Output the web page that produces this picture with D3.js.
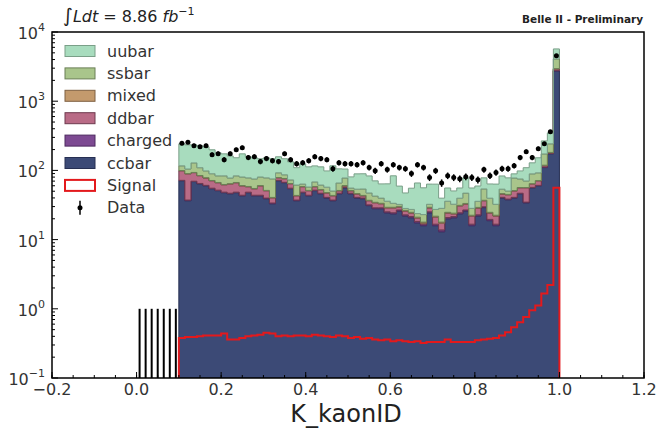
<!DOCTYPE html>
<html><head><meta charset="utf-8">
<script src="https://cdn.jsdelivr.net/npm/d3@7"></script>
<style>body{margin:0;background:#fff}svg{display:block}text{font-family:"DejaVu Sans",sans-serif}</style>
</head><body><svg id="c" width="662" height="428"></svg>
<script>
// Histogram binning: 70 bins on [0,1]; MC/signal non-zero from bin 7 (x=0.1) to bin 69
const nBins = 70, firstBin = 7;
// Data in bins 0..6 (x 0.0-0.1)
const dataLow = [0,0,0,0,0,0,0];
// Values for bins 7..69
const ccbar = [71,36.5,69,64,60,54.5,51,47.7,46,47.7,43,47.7,43,43,39,33,71,66.5,54.5,36.5,47.7,43,51,46,40,36.5,46,56,46,40,39,31,28,28,24.4,23.6,26,22,20.7,17.5,15.9,24.4,15.9,13,20,20.7,23.6,26,15.9,22,29,18.8,15.9,40,37.7,40,46,34,56,60,110,174,2746];
const charged = [0.8,0.8,0.8,0.8,0.8,0.8,0.8,0.8,0.8,0.8,0.8,0.8,0.8,0.8,0.8,0.8,0.8,0.8,0.8,0.8,0.8,0.8,0.8,0.8,0.8,0.8,0.8,0.8,0.8,0.8,0.8,0.8,0.8,0.8,0.8,0.8,0.8,0.8,0.8,0.8,0.8,0.8,0.8,0.8,0.8,0.8,0.8,0.8,0.8,0.8,0.8,0.8,0.8,0.8,0.8,0.8,0.8,0.8,0.8,0.8,2,2,20];
const ddbar = [27,52,23,19,17,15.6,14.5,13.5,17,17.8,16,9.5,10.4,16,11,6.3,6.5,8.5,8.8,5.6,9.5,7,6.2,5.6,6.4,5.6,3.9,2.9,3.9,4.8,3.1,4.6,5.2,4.1,3.5,4.3,2.8,3,2.7,2.2,0.6,3.5,4.5,3.5,3.4,2,6.3,5.9,5.2,5.8,6.6,4.6,5.2,4.8,5.9,9.7,9.2,21.2,7,9.9,5,4,160];
const mixed = [0.6,0.6,0.6,0.6,0.6,0.6,0.6,0.6,0.6,0.6,0.6,0.6,0.6,0.6,0.6,0.6,0.6,0.6,0.6,0.6,0.6,0.6,0.6,0.6,0.6,0.6,0.6,0.6,0.6,0.6,0.6,0.6,0.6,0.6,0.6,0.6,0.6,0.6,0.6,0.6,0.6,0.6,0.6,0.6,0.6,0.6,0.6,0.6,0.6,0.6,0.6,0.6,0.6,0.6,0.6,0.6,0.6,0.6,0.6,0.6,2,2,30];
const ssbar = [17,15,35,25,20,18,16.5,20.8,13.3,16.5,20,19.4,20.5,20,26.6,34.7,13.4,10,8.2,18,5,6.2,9.6,8.5,9.5,6.9,14.5,17.4,4.3,7.4,10.4,10.2,8,6.3,6.6,4.2,2.1,1.8,2.5,2.7,5.1,3.1,5.5,10.4,11.1,8.4,8.4,13.7,5.8,6.6,17,14.9,9.9,7.4,5.4,26.6,18.7,13.8,24.7,20.9,54,60,1126];
const uubar = [126,129,105,117,121,109,96,90,84,69,93,79,77,67,74,72,65,61,60,48,61,55,48,51,41,66,39.5,27,25,35.5,35.5,36,28,24,28,50,27,19,28,42,33,31,36,11.4,19.8,18,16,31,27.4,23.7,24,24,31,29.5,27.6,11.4,23,39,39.5,60,94,107,1615];
const signal = [0.38,0.39,0.39,0.40,0.41,0.41,0.41,0.44,0.36,0.36,0.38,0.40,0.41,0.42,0.45,0.44,0.40,0.41,0.40,0.41,0.41,0.40,0.42,0.41,0.40,0.39,0.41,0.40,0.38,0.39,0.37,0.38,0.36,0.35,0.36,0.34,0.35,0.34,0.33,0.34,0.32,0.33,0.33,0.33,0.36,0.33,0.33,0.33,0.33,0.35,0.36,0.37,0.38,0.41,0.46,0.54,0.64,0.76,0.95,1.12,1.66,2.2,56];
const data = [247,255,227,220,227,169,174,143,174,199,213,153,158,134,148,138,134,174,143,125,129,138,158,148,143,106,129,125,125,121,129,110,99,125,103,121,110,106,90,121,110,79,99,66,84,79,76,81,79,73,103,84,93,106,106,117,153,186,153,206,243,362,4520];

const xTicks = [-0.2,0.0,0.2,0.4,0.6,0.8,1.0,1.2];
const xTickLabels = ["\u22120.2","0.0","0.2","0.4","0.6","0.8","1.0","1.2"];
const yTicks = [0.1,1,10,100,1000,10000];
const yTickExp = ["\u22121","0","1","2","3","4"];

const layers = [
  {name:"ccbar", v:ccbar, fill:"#3c4a76", edge:"#262f52"},
  {name:"charged", v:charged, fill:"#7d4a92", edge:"#4e2a60"},
  {name:"ddbar", v:ddbar, fill:"#b96b86", edge:"#6e3a4e"},
  {name:"mixed", v:mixed, fill:"#c39a6d", edge:"#7f6143"},
  {name:"ssbar", v:ssbar, fill:"#a9c58b", edge:"#6b7f56"},
  {name:"uubar", v:uubar, fill:"#a8dcbe", edge:"#7a9f88"}
];

const svg = d3.select("#c");
const L=52, R=644, T=32, B=378;
const x = d3.scaleLinear().domain([-0.2,1.2]).range([L,R]);
const y = d3.scaleLog().domain([0.1,1e4]).range([B,T]).clamp(true);
const edge = i => i/nBins;

svg.append("clipPath").attr("id","pc").append("rect").attr("x",L).attr("y",T).attr("width",R-L).attr("height",B-T);
const g = svg.append("g").attr("clip-path","url(#pc)");

// stacked histograms
const n = ccbar.length;
let cum = new Array(n).fill(0);
layers.forEach(layer=>{
  const lo = cum.slice();
  const hi = cum.map((c,i)=>c+layer.v[i]);
  cum = hi;
  const pts = d3.range(n+1).map(i=>({x:edge(firstBin+i), lo: lo[Math.min(i,n-1)], hi: hi[Math.min(i,n-1)]}));
  const area = d3.area().curve(d3.curveStepAfter)
     .x(d=>x(d.x)).y0(d=> d.lo>0 ? y(d.lo) : B).y1(d=>y(d.hi));
  g.append("path").attr("d",area(pts)).attr("fill",layer.fill).attr("stroke",layer.edge).attr("stroke-width",1);
});

// signal step line
const sigPts = [[x(edge(firstBin)),B]];
signal.forEach((s,i)=>{ sigPts.push([x(edge(firstBin+i)),y(s)]); sigPts.push([x(edge(firstBin+i+1)),y(s)]); });
sigPts.push([x(edge(firstBin+n)),B]);
g.append("path").attr("d",d3.line()(sigPts)).attr("fill","none").attr("stroke","#e3191c").attr("stroke-width",2);

// data
const allData = dataLow.concat(data);
allData.forEach((v,i)=>{
  const cx = x((edge(i)+edge(i+1))/2);
  if(v<=0){
    g.append("line").attr("x1",cx).attr("x2",cx).attr("y1",B).attr("y2",y(1)).attr("stroke","#000").attr("stroke-width",2);
  } else {
    const e = Math.sqrt(v);
    g.append("line").attr("x1",cx).attr("x2",cx).attr("y1",y(v-e)).attr("y2",y(v+e)).attr("stroke","#000").attr("stroke-width",1.5);
    g.append("circle").attr("cx",cx).attr("cy",y(v)).attr("r",2.5).attr("fill","#000");
  }
});

// axes frame
svg.append("rect").attr("x",L).attr("y",T).attr("width",R-L).attr("height",B-T).attr("fill","none").attr("stroke","#000").attr("stroke-width",1.5);

// x ticks (inward)
const xMinor = d3.range(-0.2,1.2001,0.05);
xMinor.forEach(t=>{ svg.append("line").attr("x1",x(t)).attr("x2",x(t)).attr("y1",B).attr("y2",B-3).attr("stroke","#000"); });
xTicks.forEach((t,i)=>{
  svg.append("line").attr("x1",x(t)).attr("x2",x(t)).attr("y1",B).attr("y2",B-6).attr("stroke","#000");
  svg.append("text").attr("x",x(t)).attr("y",395).attr("text-anchor","middle").attr("font-size",16).attr("fill","#333").text(xTickLabels[i]);
});
// y ticks
yTicks.forEach((t,i)=>{
  svg.append("line").attr("x1",L).attr("x2",L+6).attr("y1",y(t)).attr("y2",y(t)).attr("stroke","#000");
  if(i<yTicks.length-1){ for(let k=2;k<10;k++){ const v=t*k; svg.append("line").attr("x1",L).attr("x2",L+3).attr("y1",y(v)).attr("y2",y(v)).attr("stroke","#000"); } }
  const tx = svg.append("text").attr("x",45).attr("y",y(t)+7).attr("text-anchor","end").attr("font-size",16).attr("fill","#333");
  tx.append("tspan").text("10");
  tx.append("tspan").attr("dy",-8).attr("font-size",11).text(yTickExp[i]);
});

// x label
svg.append("text").attr("x",346).attr("y",421.5).attr("text-anchor","middle").attr("font-size",24).attr("fill","#222").text("K_kaonID");

// titles
const tl = svg.append("text").attr("x",63).attr("y",22).attr("font-size",16).attr("fill","#222");
tl.append("tspan").attr("font-size",19).text("\u222B");
tl.append("tspan").attr("font-style","italic").text("Ldt");
tl.append("tspan").text(" = 8.86 ");
tl.append("tspan").attr("font-style","italic").text("fb");
tl.append("tspan").attr("dy",-7).attr("font-size",11).text("\u22121");
svg.append("text").attr("x",643).attr("y",23).attr("text-anchor","end").attr("font-size",10.5).attr("font-weight","bold").attr("fill","#222").text("Belle II - Preliminary");

// legend
const leg = svg.append("g");
const legItems = [...layers].reverse().map(l=>({name:l.name, fill:l.fill, edge:l.edge, type:"box"}));
legItems.push({name:"Signal", fill:"#fff", edge:"#e3191c", type:"sig"});
legItems.push({name:"Data", type:"data"});
legItems.forEach((it,i)=>{
  const yy = 51 + i*22.4;
  if(it.type==="data"){
    leg.append("line").attr("x1",80).attr("x2",80).attr("y1",yy-7).attr("y2",yy+7).attr("stroke","#000").attr("stroke-width",1.5);
    leg.append("circle").attr("cx",80).attr("cy",yy).attr("r",2.5).attr("fill","#000");
  } else {
    leg.append("rect").attr("x",65).attr("y",yy-5.5).attr("width",30).attr("height",11).attr("fill",it.fill).attr("stroke",it.edge).attr("stroke-width", it.type==="sig"?2:1);
  }
  leg.append("text").attr("x",107).attr("y",yy+5.5).attr("font-size",16).attr("fill","#333").text(it.name);
});
</script></body></html>
